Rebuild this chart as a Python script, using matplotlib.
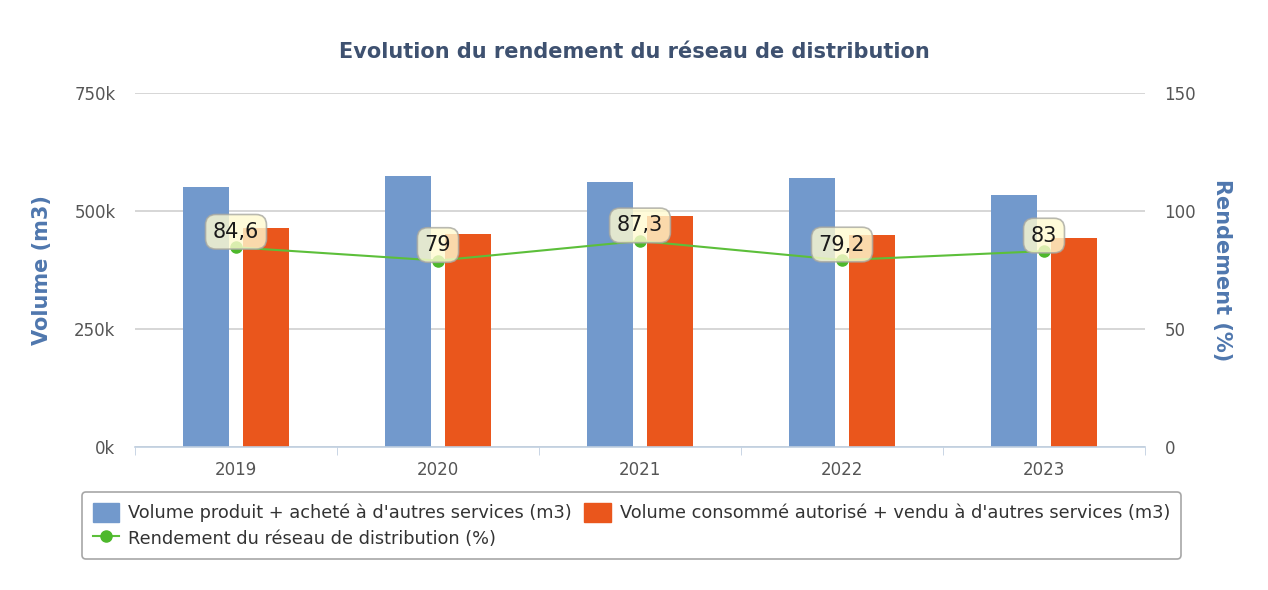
import matplotlib
matplotlib.use("Agg")
import matplotlib.pyplot as plt
from matplotlib.lines import Line2D
from matplotlib.patches import Patch
import numpy as np

years = ["2019", "2020", "2021", "2022", "2023"]
vol_produit = [551000, 574000, 561000, 570000, 534000]
vol_consomme = [464000, 451000, 489000, 449000, 443000]
rendement = [84.6, 79.0, 87.3, 79.2, 83.0]
rendement_labels = ["84,6", "79", "87,3", "79,2", "83"]

left_ticks = [0, 250000, 500000, 750000]
left_ticklabels = ["0k", "250k", "500k", "750k"]
right_ticks = [0, 50, 100, 150]

C_BLUE = "#7299cc"
C_ORANGE = "#ea561c"
C_GREEN = "#5cbf3a"
C_TITLE = "#3e5170"
C_AXLABEL = "#4f77ae"
C_TICK = "#555555"

fig = plt.figure(figsize=(12.68, 5.90), dpi=100)
ax = fig.add_axes([135/1268, 1-447/590, (1145-135)/1268, (447-93)/590])
ax2 = ax.twinx()

x = np.arange(len(years))
w = 0.228
off = 0.148
ax.bar(x - off, vol_produit, w, color=C_BLUE, zorder=2)
ax.bar(x + off, vol_consomme, w, color=C_ORANGE, zorder=2)

ax.set_xlim(-0.5, len(years) - 0.5)
ax.set_ylim(0, 750000)
ax.set_yticks(left_ticks)
ax.set_yticklabels(left_ticklabels)
ax.set_xticks(x)
ax.set_xticklabels(years)
ax.set_xticks(np.arange(len(years) + 1) - 0.5, minor=True)
ax.tick_params(axis="x", which="major", length=0, pad=10, labelsize=12, labelcolor=C_TICK)
ax.tick_params(axis="x", which="minor", length=6, color="#c0cfe0", direction="out")
ax.tick_params(axis="y", length=0, pad=14, labelsize=12, labelcolor=C_TICK)
ax.grid(axis="y", color="#d0d0d0", linewidth=1.2, zorder=0)
ax.set_axisbelow(True)
for s in ["top", "left", "right"]:
    ax.spines[s].set_visible(False)
ax.spines["bottom"].set_color("#c0cfe0")
ax.spines["bottom"].set_linewidth(1.2)

ax2.set_ylim(0, 150)
ax2.set_yticks(right_ticks)
ax2.tick_params(axis="y", length=0, pad=14, labelsize=12, labelcolor=C_TICK)
for s in ["top", "left", "right", "bottom"]:
    ax2.spines[s].set_visible(False)
ax2.plot(x, rendement, color=C_GREEN, linewidth=1.5, marker="o", markersize=8,
         markerfacecolor="#4db82b", markeredgecolor="#4db82b", zorder=3)
for xi, yi, lab in zip(x, rendement, rendement_labels):
    ax2.annotate(lab, (xi, yi), xytext=(0, 4), textcoords="offset points",
                 ha="center", va="bottom", fontsize=15, color="#1a1a1a",
                 bbox=dict(boxstyle="round,pad=0.35,rounding_size=0.5",
                           facecolor="#fffbd0", edgecolor="#a8a8a0", alpha=0.8, linewidth=1.2),
                 zorder=5)

ax.set_ylabel("Volume (m3)", fontsize=15, fontweight="bold", color=C_AXLABEL, labelpad=16)
ax2.set_ylabel("Rendement (%)", fontsize=15, fontweight="bold", color=C_AXLABEL,
               rotation=-90, labelpad=26)

fig.text(0.5, 1-52/590, "Evolution du rendement du réseau de distribution",
         ha="center", va="center", fontsize=15, fontweight="bold", color=C_TITLE)

handles = [
    Patch(facecolor=C_BLUE, edgecolor=C_BLUE),
    Line2D([0], [0], color=C_GREEN, linewidth=1.5, marker="o", markersize=8,
           markerfacecolor="#4db82b", markeredgecolor="#4db82b"),
    Patch(facecolor=C_ORANGE, edgecolor=C_ORANGE),
]
labels = [
    "Volume produit + acheté à d'autres services (m3)",
    "Rendement du réseau de distribution (%)",
    "Volume consommé autorisé + vendu à d'autres services (m3)",
]
leg = fig.legend(handles, labels, ncol=2, loc="upper left",
                 bbox_to_anchor=(82/1268, 1-492/590), borderaxespad=0, fontsize=12.8,
                 frameon=True, fancybox=True, edgecolor="#909090",
                 handlelength=1.5, handleheight=1.3, columnspacing=0.7,
                 handletextpad=0.5, labelspacing=0.35, borderpad=0.6,
                 labelcolor="#333333")
leg.get_frame().set_linewidth(1.2)

fig.savefig("out.png", dpi=100)
